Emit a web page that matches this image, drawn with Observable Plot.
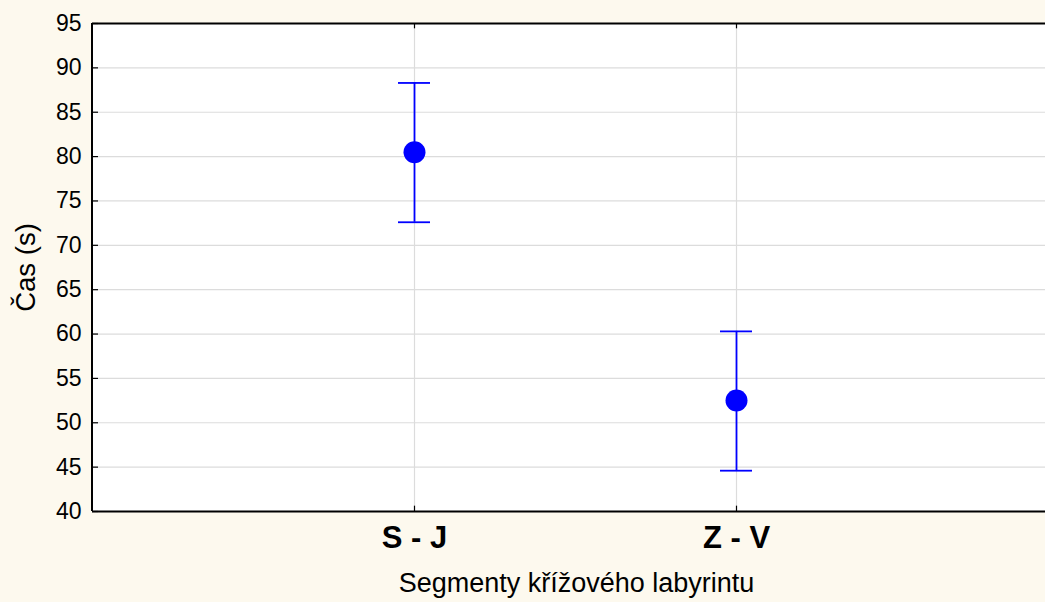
<!DOCTYPE html>
<html>
<head>
<meta charset="utf-8">
<script src="https://cdn.jsdelivr.net/npm/d3@7"></script>
<script src="https://cdn.jsdelivr.net/npm/@observablehq/plot@0.6"></script>
<style>
  html, body { margin: 0; padding: 0; background: #fdf9ee; overflow: hidden; }
  #chart svg { display: block; }
</style>
</head>
<body>
<div id="chart"></div>
<script>
const categories = ["S - J", "Z - V"];
const means = [80.5, 52.5];
const upper = [88.3, 60.3];
const lower = [72.6, 44.6];
const yTicks = [40, 45, 50, 55, 60, 65, 70, 75, 80, 85, 90, 95];
const yLabel = "Čas (s)";
const xLabel = "Segmenty křížového labyrintu";

const data = categories.map((c, i) => ({cat: c, mean: means[i], hi: upper[i], lo: lower[i]}));

const W = 1045, H = 602, mL = 92, mT = 23, mB = 91, mR = -8;
const frameW = W - mL - mR;

const chart = Plot.plot({
  width: W,
  height: H,
  marginLeft: mL,
  marginTop: mT,
  marginBottom: mB,
  marginRight: mR,
  style: {background: "transparent", fontFamily: "'Liberation Sans', Arial, sans-serif", color: "#000"},
  x: {type: "band", domain: categories, range: [92, 1058], paddingInner: 0.9006, paddingOuter: 0.9503},
  y: {domain: [40, 95]},
  marks: [
    Plot.frame({fill: "white", stroke: null}),
    Plot.ruleY(yTicks.slice(1, -1), {stroke: "#dcdcdc", strokeWidth: 1.2}),
    Plot.ruleX(categories, {x: d => d, stroke: "#dcdcdc", strokeWidth: 1.2}),
    // inward ticks
    Plot.tickY(yTicks, {y: d => d, insetRight: frameW - 6, stroke: "#000", strokeWidth: 1.2}),
    Plot.ruleX(categories, {x: d => d, y1: 40, y2: 40.6, stroke: "#000", strokeWidth: 1.2}),
    Plot.ruleX(categories, {x: d => d, y1: 94.4, y2: 95, stroke: "#000", strokeWidth: 1.2}),
    // frame border: top, bottom, left
    Plot.ruleY([40, 95], {stroke: "#000", strokeWidth: 2}),
    Plot.rect([0], {y1: 40, y2: 95, insetLeft: -1, insetRight: frameW - 1, fill: "#000"}),
    // error bars
    Plot.ruleX(data, {x: "cat", y1: "lo", y2: "hi", stroke: "#0000ff", strokeWidth: 1.8}),
    Plot.tickY(data, {x: "cat", y: "hi", stroke: "#0000ff", strokeWidth: 1.8}),
    Plot.tickY(data, {x: "cat", y: "lo", stroke: "#0000ff", strokeWidth: 1.8}),
    Plot.dot(data, {x: "cat", y: "mean", r: 11, fill: "#0000ff", stroke: "none"}),
    // axes
    Plot.axisY(yTicks, {tickSize: 0, tickPadding: 11, fontSize: 23, label: null}),
    Plot.axisX({tickSize: 0, tickPadding: 14, fontSize: 31, fontWeight: "bold", label: null}),
    Plot.text([yLabel], {frameAnchor: "left", dx: -66, rotate: -90, fontSize: 27.5, textAnchor: "middle"}),
    Plot.text([xLabel], {frameAnchor: "bottom", dx: 576 - (mL + frameW / 2), dy: 80, fontSize: 27, textAnchor: "middle"})
  ]
});

document.getElementById("chart").appendChild(chart);
</script>
</body>
</html>
